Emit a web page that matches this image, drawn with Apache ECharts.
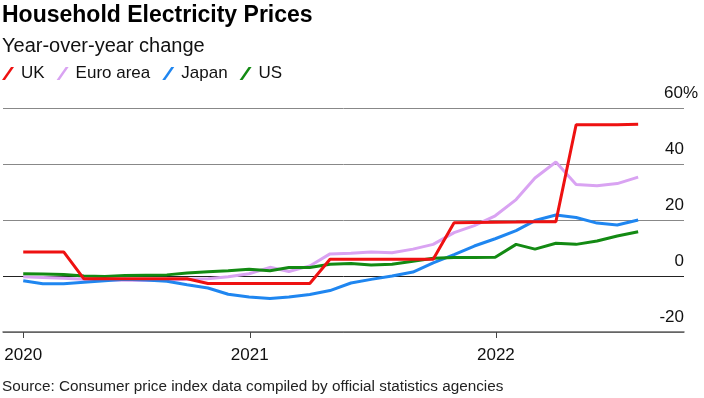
<!DOCTYPE html>
<html>
<head>
<meta charset="utf-8">
<script src="https://cdn.jsdelivr.net/npm/echarts@6/dist/echarts.min.js"></script>
<style>
  html, body { margin: 0; padding: 0; background: #fff; }
  #chart { width: 704px; height: 398px; }
</style>
</head>
<body>
<div id="chart"></div>
<script>
// monthly readings, Jan 2020 .. Jul 2022
var months = [
  '2020-01', '2020-02', '2020-03', '2020-04', '2020-05', '2020-06',
  '2020-07', '2020-08', '2020-09', '2020-10', '2020-11', '2020-12',
  '2021-01', '2021-02', '2021-03', '2021-04', '2021-05', '2021-06',
  '2021-07', '2021-08', '2021-09', '2021-10', '2021-11', '2021-12',
  '2022-01', '2022-02', '2022-03', '2022-04', '2022-05', '2022-06',
  '2022-07'
];
var uk = [
  8.6, 8.6, 8.6, -1.0, -1.0, -1.0, -1.0, -1.0, -1.0, -2.7, -2.7, -2.7,
  -2.7, -2.7, -2.7, 6.0, 6.0, 6.0, 6.0, 6.0, 6.0, 19.0, 19.1, 19.2,
  19.3, 19.4, 19.4, 54.0, 54.0, 54.0, 54.2
];
var euro = [
  -0.3, -0.5, -0.8, -1.2, -1.4, -1.5, -1.6, -1.5, -1.2, -1.0, -0.3, 0.8,
  3.1, 1.6, 3.6, 7.9, 8.1, 8.6, 8.3, 9.6, 11.3, 15.5, 18.0, 21.5,
  27.3, 35.0, 40.7, 32.7, 32.2, 33.0, 35.3
];
var japan = [
  -1.7, -2.8, -2.8, -2.2, -1.7, -1.2, -1.4, -1.9, -3.1, -4.3, -6.5, -7.5,
  -8.0, -7.5, -6.6, -5.2, -2.5, -1.2, 0.0, 1.4, 4.7, 7.6, 10.7, 13.3,
  16.2, 19.8, 21.8, 20.9, 18.9, 18.2, 20.0
];
var us = [
  0.8, 0.7, 0.5, 0.0, -0.2, 0.2, 0.3, 0.4, 1.1, 1.5, 1.9, 2.4,
  1.9, 3.0, 3.0, 4.2, 4.5, 3.9, 4.2, 5.3, 6.3, 6.6, 6.6, 6.7,
  11.3, 9.6, 11.7, 11.3, 12.5, 14.3, 15.8
];
var yearTicks = ['2020-01', '2021-01', '2022-01'];
var yMin = -20, yMax = 60, yStep = 20;

var FONT = '"Liberation Sans", Arial, sans-serif';

// readings are plotted at the end of their month
function monthEnd(m) {
  var p = m.split('-');
  return new Date(+p[0], +p[1], 0).getTime();
}
function pairs(vals) {
  return vals.map(function (v, i) { return [monthEnd(months[i]), v]; });
}
// first year tick sits on the first reading, the rest on Jan 1
var tickValues = yearTicks.map(function (m, i) {
  var p = m.split('-');
  return i === 0 ? monthEnd(months[0]) : new Date(+p[0], 0, 1).getTime();
});

var slash = 'path://M0,13 L3,13 L12,0 L9,0 Z';

function line(name, vals, color) {
  return {
    name: name,
    type: 'line',
    data: pairs(vals),
    symbol: 'none',
    smooth: false,
    lineStyle: { color: color, width: 3 },
    itemStyle: { color: color },
    emphasis: { disabled: true }
  };
}

var chart = echarts.init(document.getElementById('chart'), null, { renderer: 'canvas' });
chart.setOption({
  animation: false,
  textStyle: { fontFamily: FONT },
  title: [{
    text: 'Household Electricity Prices',
    subtext: 'Year-over-year change',
    left: 0,
    top: 2,
    itemGap: 9,
    padding: [2, 2],
    textStyle: { fontFamily: FONT, fontSize: 23, fontWeight: 'bold', color: '#000' },
    subtextStyle: { fontFamily: FONT, fontSize: 20, color: '#111' }
  }, {
    text: 'Source: Consumer price index data compiled by official statistics agencies',
    left: 0,
    top: 379,
    padding: [0, 2],
    textStyle: { fontFamily: FONT, fontSize: 15.3, fontWeight: 'normal', color: '#222' }
  }],
  legend: {
    data: ['UK', 'Euro area', 'Japan', 'US'],
    left: 2,
    top: 65,
    padding: 0,
    icon: slash,
    itemWidth: 12,
    itemHeight: 13,
    itemGap: 12,
    textStyle: { fontFamily: FONT, fontSize: 17, color: '#111', padding: [0, 0, 0, 2] }
  },
  grid: { left: 3, right: 20, top: 108, bottom: 66, containLabel: false, outerBoundsMode: 'none' },
  xAxis: {
    type: 'value',
    min: new Date(2020, 0, 1).getTime(),
    max: new Date(2022, 9, 7).getTime(),
    axisLine: { show: true, onZero: false, lineStyle: { color: '#666', width: 1.5 } },
    axisTick: { show: true, length: 6, lineStyle: { color: '#444', width: 1 }, customValues: tickValues },
    splitLine: { show: false },
    axisLabel: {
      customValues: tickValues,
      margin: 15,
      fontSize: 17,
      color: '#111',
      fontFamily: FONT,
      formatter: function (v) { return String(new Date(v).getFullYear()); }
    }
  },
  yAxis: {
    type: 'value',
    position: 'right',
    min: yMin,
    max: yMax,
    interval: yStep,
    axisLine: { show: false },
    axisTick: { show: false },
    splitLine: { show: true, lineStyle: { color: ['#666', '#222', '#888', '#888', '#888'], width: 1 } },
    axisLabel: {
      showMinLabel: true,
      showMaxLabel: true,
      align: 'left',
      margin: -24,
      verticalAlign: 'middle',
      padding: [0, 0, 30, 0],
      fontSize: 17,
      color: '#111',
      fontFamily: FONT,
      formatter: function (v) {
        return v === yMax ? '{m|' + v + '%}' : '{n|' + v + '}';
      },
      rich: {
        n: { width: 24, align: 'right', fontSize: 17, color: '#111', fontFamily: FONT },
        m: { width: 38, align: 'right', fontSize: 17, color: '#111', fontFamily: FONT }
      }
    }
  },
  series: [
    line('Euro area', euro, '#d9a3f2'),
    line('Japan', japan, '#1f86f0'),
    line('US', us, '#138a13'),
    line('UK', uk, '#ee1111')
  ]
});
</script>
</body>
</html>
